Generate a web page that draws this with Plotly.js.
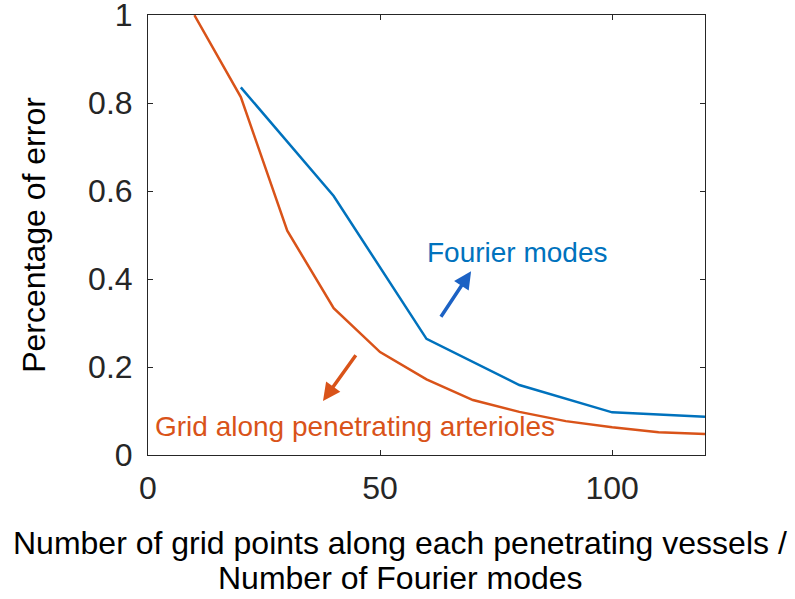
<!DOCTYPE html>
<html>
<head>
<meta charset="utf-8">
<script src="https://cdn.plot.ly/plotly-3.0.1.min.js"></script>
<style>html,body{margin:0;padding:0;background:#fff;}#chart{width:795px;height:599px;}</style>
</head>
<body>
<div id="chart"></div>
<script>
const gridX = [10, 20, 30, 40, 50, 60, 70, 80, 90, 100, 110, 120];
const gridErr = [1.0, 0.814, 0.51, 0.334, 0.234, 0.172, 0.125, 0.098, 0.077, 0.063, 0.052, 0.048];
const fourierX = [20, 40, 60, 80, 100, 120];
const fourierErr = [0.836, 0.589, 0.264, 0.159, 0.097, 0.087];
const xTicks = [0, 50, 100];
const yTicks = [0, 0.2, 0.4, 0.6, 0.8, 1];
const yTickText = ['0', '0.2', '0.4', '0.6', '0.8', '1'];
const xTitleLines = ['Number of grid points along each penetrating vessels /', 'Number of Fourier modes'];

const BLUE = '#0072BD';
const ORANGE = '#D95319';
const FONT = 'Arial, "Liberation Sans", sans-serif';

const traces = [
  {x: gridX, y: gridErr, mode: 'lines', line: {color: ORANGE, width: 2.5}, showlegend: false, hoverinfo: 'skip'},
  {x: fourierX, y: fourierErr, mode: 'lines', line: {color: BLUE, width: 2.5}, showlegend: false, hoverinfo: 'skip'}
];

const axisCommon = {
  showgrid: false, zeroline: false, showline: true, mirror: 'ticks',
  linecolor: '#262626', linewidth: 1, ticks: 'inside', ticklen: 5,
  tickcolor: '#262626', tickfont: {family: FONT, size: 32, color: '#262626'},
  ticklabeloverflow: 'allow'
};

const layout = {
  width: 795, height: 599,
  margin: {l: 148, r: 90, t: 15, b: 144},
  paper_bgcolor: '#fff', plot_bgcolor: '#fff',
  xaxis: Object.assign({}, axisCommon, {
    range: [0, 120], tickvals: xTicks, ticktext: xTicks.map(String), ticklabelstandoff: 5
  }),
  yaxis: Object.assign({}, axisCommon, {
    range: [0, 1.0005], tickvals: yTicks, ticktext: yTickText, ticklabelstandoff: 8,
    title: {text: 'Percentage of error', font: {family: FONT, size: 32, color: '#000'}, standoff: 32}
  }),
  annotations: [
    {x: 0.5, y: 543, xref: 'paper', yref: 'paper', text: xTitleLines[0], showarrow: false},
    {x: 0.5, y: 578, xref: 'paper', yref: 'paper', text: xTitleLines[1], showarrow: false},
    {x: 79.7, y: 0.461, xref: 'x', yref: 'y', text: 'Fourier modes', showarrow: false,
     font: {family: FONT, size: 28, color: BLUE}},
    {x: 69.6, y: 0.418, ax: 62.9, ay: 0.311, xref: 'x', yref: 'y', axref: 'x', ayref: 'y',
     text: '', showarrow: true, arrowhead: 2, arrowsize: 1, arrowwidth: 3.5, arrowcolor: '#1C62C4'},
    {x: 37.7, y: 0.123, ax: 45, ay: 0.23, xref: 'x', yref: 'y', axref: 'x', ayref: 'y',
     text: '', showarrow: true, arrowhead: 2, arrowsize: 1, arrowwidth: 3.5, arrowcolor: ORANGE},
    {x: 44.6, y: 0.064, xref: 'x', yref: 'y', text: 'Grid along penetrating arterioles', showarrow: false,
     font: {family: FONT, size: 28, color: ORANGE}}
  ]
};

// convert pixel positions of the x-title lines into paper fractions
const plotH = 599 - 15 - 144;
layout.annotations.slice(0, 2).forEach(a => {
  a.y = (599 - 144 - a.y) / plotH;
  a.x = (400 - 148) / (795 - 148 - 90);
  a.yanchor = 'middle';
  a.font = {family: FONT, size: 32, color: '#000'};
});

Plotly.newPlot('chart', traces, layout, {displayModeBar: false, staticPlot: true});
</script>
</body>
</html>
